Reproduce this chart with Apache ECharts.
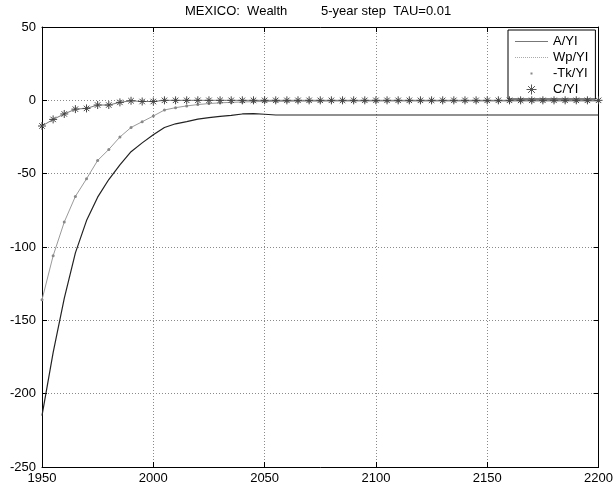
<!DOCTYPE html>
<html>
<head>
<meta charset="utf-8">
<script src="https://cdn.jsdelivr.net/npm/echarts@6/dist/echarts.min.js"></script>
<style>html,body{margin:0;padding:0;background:#fff;}#c{width:616px;height:489px;}</style>
</head>
<body>
<div id="c"></div>
<script>
const years = [1950,1955,1960,1965,1970,1975,1980,1985,1990,1995,2000,2005,2010,2015,2020,2025,2030,2035,2040,2045,2050,2055,2060,2065,2070,2075,2080,2085,2090,2095,2100,2105,2110,2115,2120,2125,2130,2135,2140,2145,2150,2155,2160,2165,2170,2175,2180,2185,2190,2195,2200];
const aYI = [-215,-172,-135,-104,-82,-66,-54,-44,-35,-29,-23.5,-18.5,-16,-14.5,-12.8,-11.8,-11,-10.3,-9.3,-9,-9.5,-10,
  -10,-10,-10,-10,-10,-10,-10,-10,-10,-10,-10,-10,-10,-10,-10,-10,-10,-10,-10,-10,-10,-10,-10,-10,-10,-10,-10,-10,-10];
const wpYI = [-136,-106,-83,-65.5,-53.5,-41,-33.5,-25,-18.5,-14.6,-10.7,-6.6,-5,-3.8,-2.9,-2.2,-1.7,-1.4,-1.1,-0.9,-0.8,-0.7,
  -0.7,-0.6,-0.6,-0.6,-0.5,-0.5,-0.5,-0.5,-0.5,-0.5,-0.5,-0.5,-0.5,-0.5,-0.5,-0.5,-0.5,-0.5,-0.5,-0.5,-0.5,-0.5,-0.5,-0.5,-0.5,-0.5,-0.5,-0.5,-0.5];
const tkYI = wpYI;
const cYI = [-17.5,-13,-9.3,-6,-5.5,-3.2,-3.2,-1.4,-0.3,-0.8,-0.8,
  0,0,0,0,0,0,0,0,0,0,0,0,0,0,0,0,0,0,0,0,0,0,0,0,0,0,0,0,0,0,0,0,0,0,0,0,0,0,0,0];
const seriesNames = ['A/YI','Wp/YI','-Tk/YI','C/YI'];
const xTicks = {min:1950, max:2200, step:50};
const yTicks = {min:-250, max:50, step:50};
const titleParts = ['MEXICO:  Wealth', '5-year step  TAU=0.01'];

const pairs = arr => years.map((y,i)=>[y,arr[i]]);
const FONT = 'Liberation Sans, Arial, Helvetica, sans-serif';
const asterisk = 'path://M5,0 L5,10 M0,5 L10,5 M1.6,1.6 L8.4,8.4 M1.6,8.4 L8.4,1.6';
let dotted = 'path://';
for (let x=0; x<33; x+=2) dotted += 'M'+x+',0 L'+(x+1)+',0 L'+(x+1)+',1 L'+x+',1 Z ';
const solidIcon = 'path://M0,0 L33,0 L33,1 L0,1 Z';
const dotIcon = 'path://M15.5,4 L17.5,4 L17.5,6 L15.5,6 Z M0,0 L0.01,0 L0,0.01 Z M33,10 L32.99,10 L33,9.99 Z';

const chart = echarts.init(document.getElementById('c'), null, {renderer:'canvas'});
const axisCommon = {
  type:'value',
  axisLine:{show:true, onZero:false, lineStyle:{color:'#000', width:1}},
  axisTick:{show:true, inside:true, length:5, lineStyle:{color:'#000'}},
};
const titleStyle = {fontFamily:FONT, fontSize:13, fontWeight:'normal', color:'#000'};
chart.setOption({
  animation:false,
  backgroundColor:'#fff',
  title:[
    {text:titleParts[0], left:185, top:5, padding:0, textStyle:titleStyle},
    {text:titleParts[1], left:321, top:5, padding:0, textStyle:titleStyle}
  ],
  grid:{left:42, right:14, top:27, bottom:22, show:false},
  legend:{
    orient:'vertical', left:508, top:30,
    itemWidth:33, itemHeight:10, itemGap:3,
    padding:[5,7,3,7],
    borderColor:'#000', borderWidth:1, backgroundColor:'#fff',
    textStyle:{fontFamily:FONT, fontSize:13, color:'#000'},
    selectedMode:false,
    data:[
      {name:seriesNames[0], icon:solidIcon, itemStyle:{color:'#777', borderWidth:0}},
      {name:seriesNames[1], icon:dotted, itemStyle:{color:'#aaa', borderWidth:0}},
      {name:seriesNames[2], icon:dotIcon, itemStyle:{color:'#888', borderWidth:0}},
      {name:seriesNames[3], icon:asterisk, itemStyle:{color:'transparent', borderColor:'#555', borderWidth:1}}
    ]
  },
  xAxis:[
    Object.assign({}, axisCommon, {position:'bottom', min:xTicks.min, max:xTicks.max, interval:xTicks.step,
      axisLabel:{fontFamily:FONT, fontSize:13, color:'#000', margin:5, formatter: v => String(v)},
      splitLine:{show:true, lineStyle:{color:'#8a8a8a', type:[1,2], width:1}}}),
    Object.assign({}, axisCommon, {position:'top', min:xTicks.min, max:xTicks.max, interval:xTicks.step,
      axisLabel:{show:false}, splitLine:{show:false}})
  ],
  yAxis:[
    Object.assign({}, axisCommon, {position:'left', min:yTicks.min, max:yTicks.max, interval:yTicks.step,
      axisLabel:{fontFamily:FONT, fontSize:13, color:'#000', margin:6, formatter: v => String(v)},
      splitLine:{show:true, lineStyle:{color:'#8a8a8a', type:[1,2], width:1}}}),
    Object.assign({}, axisCommon, {position:'right', min:yTicks.min, max:yTicks.max, interval:yTicks.step,
      axisLabel:{show:false}, splitLine:{show:false}})
  ],
  series:[
    {name:seriesNames[0], type:'line', data:pairs(aYI), symbol:'none', silent:true,
      lineStyle:{color:'#222', width:1.2}, itemStyle:{color:'#222'}, z:4},
    {name:seriesNames[1], type:'line', data:pairs(wpYI), symbol:'none', silent:true,
      lineStyle:{color:'#9a9a9a', width:1}, itemStyle:{color:'#9a9a9a'}, z:3},
    {name:seriesNames[2], type:'line', data:pairs(tkYI), symbol:'circle', symbolSize:3, showSymbol:true, silent:true,
      lineStyle:{width:0, opacity:0}, itemStyle:{color:'#888'}, z:5},
    {name:seriesNames[3], type:'line', data:pairs(cYI), symbol:asterisk, symbolSize:8, showSymbol:true, silent:true,
      lineStyle:{color:'#777', width:1}, itemStyle:{color:'transparent', borderColor:'#444', borderWidth:1}, z:6}
  ]
});
</script>
</body>
</html>
